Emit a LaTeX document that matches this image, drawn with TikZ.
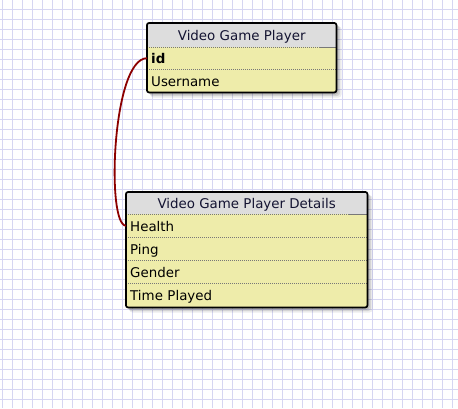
\documentclass[tikz,border=0pt]{standalone}
\usepackage{fontspec}
\setmainfont{DejaVu Sans}
\definecolor{gridc}{RGB}{214,214,242}
\definecolor{headfill}{RGB}{221,221,221}
\definecolor{rowfill}{RGB}{238,236,170}
\definecolor{sepc}{RGB}{120,120,120}
\definecolor{connc}{RGB}{140,0,0}
\definecolor{titlec}{RGB}{20,20,50}
\definecolor{rowtext}{RGB}{0,0,0}
\tikzset{
  header/.style={fill=headfill, draw=none, anchor=north west, inner sep=0pt,
    font=\fontsize{13.4}{15}\selectfont, text=titlec,
    text height=11pt, text depth=0pt},
  fieldrow/.style={fill=rowfill, draw=none, anchor=north west, inner sep=0pt,
    font=\fontsize{13.4}{15}\selectfont, text=rowtext, align=left,
    text height=11.5pt, text depth=0pt},
  sepline/.style={draw=sepc, line width=1pt, dash pattern=on 1pt off 1pt},
  sepsolid/.style={draw=sepc, line width=1pt},
  frame/.style={draw=black, line width=1.7pt, rounded corners=2pt},
  conn/.style={draw=connc, line width=1.8pt},
}
\begin{document}
\begin{tikzpicture}[x=1pt,y=-1pt]
\useasboundingbox (0,0) rectangle (458,408);
\fill[white] (0,0) rectangle (458,408);
% grid
\foreach \gx in {2,12,...,452} { \draw[gridc, line width=1pt] (\gx,0) -- (\gx,408); }
\foreach \gy in {9,19,...,399} { \draw[gridc, line width=1pt] (0,\gy) -- (458,\gy); }

% ---------- Table 1 ----------
\foreach \o/\op in {1/0.14,2.5/0.12,4/0.10,5.5/0.07}{
  \fill[black, opacity=\op, rounded corners=3pt] (147+\o*0.6,23+\o*0.6) rectangle (336+\o,92+\o);
}
\node[header, minimum width=189pt, minimum height=24pt] (t1) at (147,23) {Video Game Player};
\node[fieldrow, minimum width=189pt, minimum height=22pt, text width=181pt] (id) at (147,47) {\textbf{id}};
\node[fieldrow, minimum width=189pt, minimum height=23pt, text width=181pt] (user) at (147,69) {Username};
\draw[sepline] (t1.south west) -- ([xshift=-16pt]t1.south east);
\draw[sepsolid] ([xshift=-16pt]t1.south east) -- (t1.south east);
\draw[sepline] (id.south west) -- (id.south east);
\draw[frame] (t1.north west) rectangle (user.south east);

% ---------- Table 2 ----------
\foreach \o/\op in {1/0.14,2.5/0.12,4/0.10,5.5/0.07}{
  \fill[black, opacity=\op, rounded corners=3pt] (126+\o*0.6,192+\o*0.6) rectangle (367+\o,307+\o);
}
\node[header, minimum width=241pt, minimum height=22pt] (t2) at (126,192) {Video Game Player Details};
\node[fieldrow, minimum width=241pt, minimum height=23pt, text width=233pt] (health) at (126,214) {Health};
\node[fieldrow, minimum width=241pt, minimum height=23pt, text width=233pt] (ping) at (126,237) {Ping};
\node[fieldrow, minimum width=241pt, minimum height=23pt, text width=233pt] (gender) at (126,260) {Gender};
\node[fieldrow, minimum width=241pt, minimum height=24pt, text width=233pt] (played) at (126,283) {Time Played};
\draw[sepline] (t2.south west) -- ([xshift=-18pt]t2.south east);
\draw[sepsolid] ([xshift=-18pt]t2.south east) -- (t2.south east);
\draw[sepline] (health.south west) -- (health.south east);
\draw[sepline] (ping.south west) -- (ping.south east);
\draw[sepline] (gender.south west) -- (gender.south east);
\draw[frame] (t2.north west) rectangle (played.south east);

% ---------- Connector ----------
\draw[conn] (id.west) .. controls +(-35,0) and +(-20,0) .. (health.west);
\end{tikzpicture}
\end{document}
